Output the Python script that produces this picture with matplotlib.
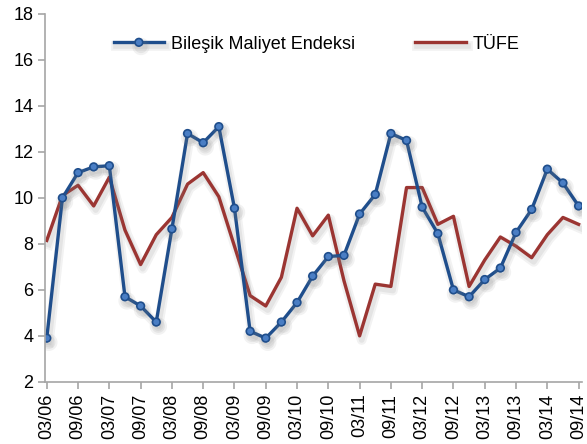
import matplotlib.pyplot as plt
import matplotlib.patheffects as pe

plt.rcParams['font.family'] = ['Liberation Sans', 'DejaVu Sans']

# quarterly data, 03/06 .. 09/14
quarters = ['03/06', '06/06', '09/06', '12/06', '03/07', '06/07', '09/07', '12/07',
            '03/08', '06/08', '09/08', '12/08', '03/09', '06/09', '09/09', '12/09',
            '03/10', '06/10', '09/10', '12/10', '03/11', '06/11', '09/11', '12/11',
            '03/12', '06/12', '09/12', '12/12', '03/13', '06/13', '09/13', '12/13',
            '03/14', '06/14', '09/14']

bilesik = [3.9, 10.0, 11.1, 11.35, 11.4, 5.7, 5.3, 4.6,
           8.65, 12.8, 12.4, 13.1, 9.55, 4.2, 3.9, 4.6,
           5.45, 6.6, 7.45, 7.5, 9.3, 10.15, 12.8, 12.5,
           9.6, 8.45, 6.0, 5.7, 6.45, 6.95, 8.5, 9.5,
           11.25, 10.65, 9.65]

tufe = [8.15, 10.1, 10.55, 9.65, 10.9, 8.6, 7.1, 8.4,
        9.15, 10.6, 11.1, 10.05, 7.9, 5.75, 5.3, 6.55,
        9.55, 8.35, 9.25, 6.4, 4.0, 6.25, 6.15, 10.45,
        10.45, 8.85, 9.2, 6.15, 7.3, 8.3, 7.9, 7.4,
        8.4, 9.15, 8.85]

x = list(range(len(quarters)))

shadow = [pe.SimpleLineShadow(offset=(1.5, -3), shadow_color='gray', alpha=0.10, linewidth=7),
          pe.SimpleLineShadow(offset=(1.5, -3), shadow_color='gray', alpha=0.12, linewidth=4),
          pe.Normal()]

fig = plt.figure(figsize=(5.87, 4.44), dpi=100)
ax = fig.add_axes([0.077, 0.14, 0.914, 0.8285])

ax.plot(x, tufe, color='#9B3532', linewidth=2.4, label='TÜFE', path_effects=shadow)
ax.plot(x, bilesik, color='#1F4E8C', linewidth=2.4, marker='o', markersize=5.5,
        markerfacecolor='#4A7EC4', markeredgecolor='#1F4E8C', markeredgewidth=1.2,
        label='Bileşik Maliyet Endeksi', path_effects=shadow)

ax.set_ylim(2, 18)
ax.set_yticks(range(2, 19, 2))
ax.set_xlim(-0.1, 34.2)
ax.set_xticks(x[::2])
ax.set_xticklabels(quarters[::2], rotation=90)

for s in ['top', 'right']:
    ax.spines[s].set_visible(False)
for s in ['left', 'bottom']:
    ax.spines[s].set_color('#A6A6A6')
    ax.spines[s].set_linewidth(1.2)
ax.tick_params(axis='both', colors='#A6A6A6', labelcolor='black', labelsize=13, length=5, width=1.2)

h, l = ax.get_legend_handles_labels()
ax.legend(h[::-1], l[::-1], loc='center', bbox_to_anchor=(0.506, 0.918), ncol=2, frameon=False,
          fontsize=13, handlelength=2.8, columnspacing=3.3, handletextpad=0.4)

fig.savefig('out.png', dpi=100)
